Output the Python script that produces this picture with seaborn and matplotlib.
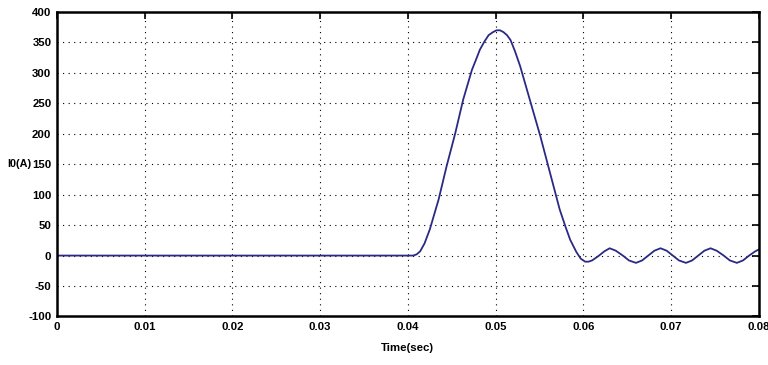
import numpy as np
import pandas as pd
import seaborn as sns
import matplotlib
matplotlib.use('Agg')
import matplotlib.pyplot as plt

# values
time_s = [0.0, 0.0100, 0.0200, 0.0300, 0.0400, 0.0406,
          0.0410, 0.0414, 0.0419, 0.0425, 0.0435, 0.0444, 0.0454, 0.0463,
          0.0473, 0.0478, 0.0482, 0.0487, 0.0492, 0.0497, 0.0501, 0.0505,
          0.0509, 0.0513, 0.0517, 0.0522, 0.0528, 0.0539, 0.0551, 0.0562,
          0.0573, 0.0580, 0.0585, 0.0592, 0.0597, 0.0602, 0.0606, 0.0610,
          0.0617, 0.0624, 0.0630, 0.0637, 0.0645, 0.0652, 0.0660, 0.0667,
          0.0674, 0.0681, 0.0688, 0.0695, 0.0702, 0.0709, 0.0717, 0.0724,
          0.0731, 0.0738, 0.0745, 0.0752, 0.0760, 0.0767, 0.0775, 0.0782,
          0.0789, 0.0796, 0.0800]
current_a = [0, 0, 0, 0, 0, 0,
             2, 7, 20, 43, 92, 146, 201, 256,
             305, 323, 338, 351, 362, 367, 370, 370,
             367, 362, 354, 336, 311, 256, 196, 136,
             76, 46, 26, 6, -5, -10, -10, -8,
             -1, 7, 12, 8, 0, -8, -12, -8,
             0, 8, 12, 8, 0, -8, -12, -8,
             0, 8, 12, 8, 0, -8, -12, -8,
             0, 7, 10]

x_ticks = [0, 0.01, 0.02, 0.03, 0.04, 0.05, 0.06, 0.07, 0.08]
x_tick_labels = ['0', '0.01', '0.02', '0.03', '0.04', '0.05', '0.06', '0.07', '0.08']
y_ticks = [-100, -50, 0, 50, 100, 150, 200, 250, 300, 350, 400]

df = pd.DataFrame({'t': time_s, 'i': current_a})

sns.set_style('white')
plt.rcParams['font.family'] = ['Liberation Sans Narrow', 'Liberation Sans', 'DejaVu Sans']
plt.rcParams['axes.unicode_minus'] = False

fig = plt.figure(figsize=(7.68, 3.65), dpi=100)
ax = fig.add_axes([0.0742, 0.133, 0.9138, 0.834])

sns.lineplot(data=df, x='t', y='i', ax=ax, color='#2a2a85', linewidth=1.3,
             sort=False, estimator=None)

ax.set_xlim(0, 0.08)
ax.set_ylim(-100, 400)
ax.set_xticks(x_ticks)
ax.set_xticklabels(x_tick_labels)
ax.set_yticks(y_ticks)

ax.grid(True, color='black', linestyle=(0, (1, 4)), linewidth=0.8)
ax.set_axisbelow(True)

for s in ax.spines.values():
    s.set_visible(True)
    s.set_color('black')
    s.set_linewidth(1.8)

ax.tick_params(direction='in', length=5, width=1.2, top=True, right=True,
               labelsize=8.2, pad=4, colors='black')
for lab in ax.get_xticklabels() + ax.get_yticklabels():
    lab.set_fontweight('bold')

ax.set_xlabel('Time(sec)', fontsize=8.2, fontweight='bold', labelpad=8, color='black')
ax.set_ylabel('I0(A)', fontsize=7.8, fontweight='bold', rotation=0,
              va='center', ha='right', color='black')
ax.yaxis.set_label_coords(-0.037, 0.5)

fig.savefig('out.png', dpi=100)
